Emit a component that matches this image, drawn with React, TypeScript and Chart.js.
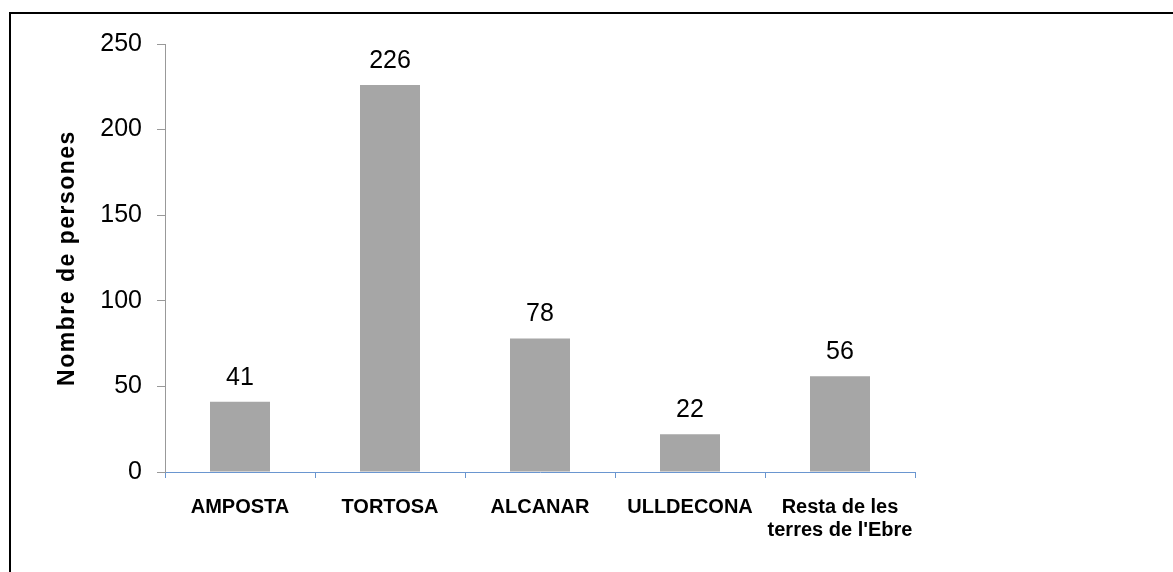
import React, { useEffect, useRef } from "react";
import { Chart, registerables } from "chart.js";

Chart.register(...registerables);

const categories: (string | string[])[] = [
  "AMPOSTA",
  "TORTOSA",
  "ALCANAR",
  "ULLDECONA",
  ["Resta de les", "terres de l'Ebre"],
];
const values: number[] = [41, 226, 78, 22, 56];
const yTicks: number[] = [0, 50, 100, 150, 200, 250];
const yTitle = "Nombre de persones";

const FONT = "'Liberation Sans', Arial, sans-serif";

const frame = {
  id: "frame",
  afterDraw(chart: any) {
    const { ctx, width, height } = chart;
    ctx.save();
    ctx.fillStyle = "#000";
    ctx.fillRect(9, 12, width - 9, 2);
    ctx.fillRect(9, 12, 2, height - 12);
    ctx.restore();
  },
};

const axisTitle = {
  id: "axisTitle",
  afterDraw(chart: any) {
    const { ctx, chartArea } = chart;
    ctx.save();
    ctx.translate(68, (chartArea.top + chartArea.bottom) / 2);
    ctx.rotate(-Math.PI / 2);
    ctx.fillStyle = "#000";
    ctx.font = `bold 23px ${FONT}`;
    try {
      (ctx as any).letterSpacing = "1.5px";
    } catch (e) {}
    ctx.textAlign = "center";
    ctx.textBaseline = "middle";
    ctx.fillText(yTitle, 0, 0);
    ctx.restore();
  },
};

const valueLabels = {
  id: "valueLabels",
  afterDatasetsDraw(chart: any) {
    const { ctx } = chart;
    const meta = chart.getDatasetMeta(0);
    ctx.save();
    ctx.fillStyle = "#000";
    ctx.font = `25px ${FONT}`;
    ctx.textAlign = "center";
    ctx.textBaseline = "alphabetic";
    meta.data.forEach((bar: any, i: number) => {
      ctx.fillText(String(values[i]), bar.x, bar.y - 17);
    });
    ctx.restore();
  },
};

export default function App() {
  const ref = useRef<HTMLCanvasElement>(null);
  useEffect(() => {
    const chart = new Chart(ref.current!, {
      type: "bar",
      data: {
        labels: categories,
        datasets: [
          {
            data: values,
            backgroundColor: "#A6A6A6",
            barPercentage: 0.4,
            categoryPercentage: 1,
          },
        ],
      },
      options: {
        responsive: false,
        animation: false,
        layout: { padding: { top: 44, right: 258, left: 0, bottom: 0 } },
        plugins: { legend: { display: false }, tooltip: { enabled: false } },
        scales: {
          x: {
            grid: {
              display: true,
              drawOnChartArea: false,
              drawTicks: true,
              tickLength: 6,
              color: "#6A96D0",
              offset: true,
            },
            border: { display: true, color: "#6A96D0", width: 1 },
            ticks: {
              color: "#000",
              font: { family: FONT, size: 20, weight: "bold", lineHeight: 1.15 },
              padding: 18,
              maxRotation: 0,
              autoSkip: false,
            },
            afterFit: (s: any) => {
              s.height = 100;
            },
          },
          y: {
            min: 0,
            max: 250,
            afterBuildTicks: (s: any) => {
              s.ticks = yTicks.map((v) => ({ value: v }));
            },
            grid: {
              display: true,
              drawOnChartArea: false,
              drawTicks: true,
              tickLength: 8,
              color: "#999",
            },
            border: { display: true, color: "#999", width: 1 },
            ticks: {
              color: "#000",
              font: { family: FONT, size: 25 },
              padding: 15,
            },
            title: { display: false },
            afterFit: (s: any) => {
              s.width = 165;
            },
          },
        },
      },
      plugins: [frame, axisTitle, valueLabels],
    });
    return () => chart.destroy();
  }, []);
  return (
    <div style={{ position: "fixed", left: 0, top: 0, width: 1173, height: 572, background: "#fff" }}>
      <canvas ref={ref} width={1173} height={572} style={{ display: "block" }} />
    </div>
  );
}
